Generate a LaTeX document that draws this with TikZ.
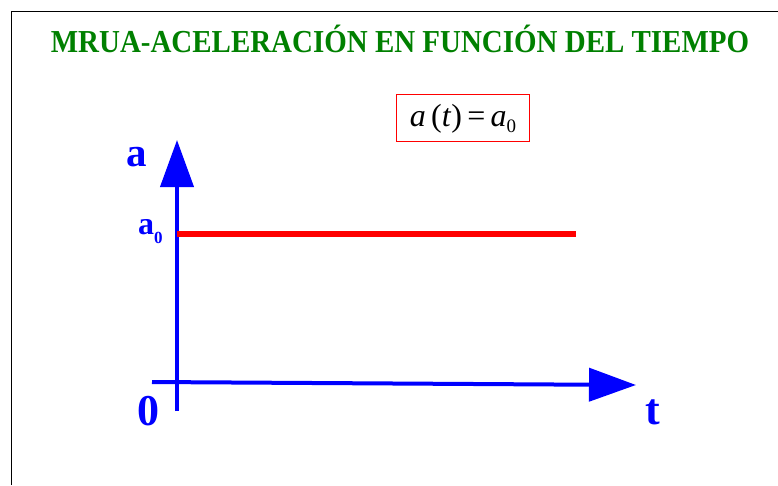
\documentclass[tikz,border=0pt]{standalone}
\usepackage{fontspec}
\setmainfont{Liberation Serif}
\usetikzlibrary{arrows.meta}
\definecolor{titlegreen}{RGB}{0,128,0}
\tikzset{
  axis/.style={draw=blue, line width=4pt, -{Triangle[length=47pt,width=33pt]}},
  axislabel/.style={text=blue, font=\bfseries\fontsize{44}{48}\selectfont, inner sep=0pt, anchor=base}
}
\begin{document}
\begin{tikzpicture}[x=1pt,y=-1pt]
\useasboundingbox (0,0) rectangle (778,485);
% frame
\coordinate (FL) at (11,485);
\coordinate (FC) at (11,11);
\coordinate (FR) at (778,11);
\draw [line width=1pt] (FL) -- (FC) -- (FR);
% title
\node (title) at (400,52) [anchor=base, inner sep=0pt, text=titlegreen, font=\bfseries\fontsize{32}{36}\selectfont] {\scalebox{0.905}[1]{MRUA-ACELERACIÓN EN FUNCIÓN DEL TIEMPO}};
% formula
\node (law) at (463,126) [anchor=base, inner sep=0pt, font=\fontsize{32}{35}\selectfont] {\textit{a}\,(\textit{t})\,=\,\textit{a}\raisebox{-6pt}{\fontsize{19}{20}\selectfont 0}};
\coordinate (B1) at (396,94);
\coordinate (B2) at (529,141);
\draw [red, line width=1pt] (B1) rectangle (B2);
% axes
\coordinate (O) at (177,411);
\coordinate (A) at (177,140);
\coordinate (L) at (152,382);
\coordinate (T) at (636,385);
\draw [axis] (O) -- (A);
\draw [axis] (L) -- (T);
% constant acceleration
\coordinate (P) at (177,234);
\coordinate (Q) at (576,234);
\draw [red, line width=6pt] (P) -- (Q);
% labels
\node (la) at (137,166) [axislabel, font=\bfseries\fontsize{41}{44}\selectfont] {a};
\node (la0) at (138,234) [axislabel, anchor=base west, font=\bfseries\fontsize{32}{34}\selectfont] {a\raisebox{-9pt}{\fontsize{17}{18}\selectfont 0}};
\node (lo) at (148,425) [axislabel] {0};
\node (lt) at (653,424) [axislabel] {t};
\end{tikzpicture}
\end{document}
